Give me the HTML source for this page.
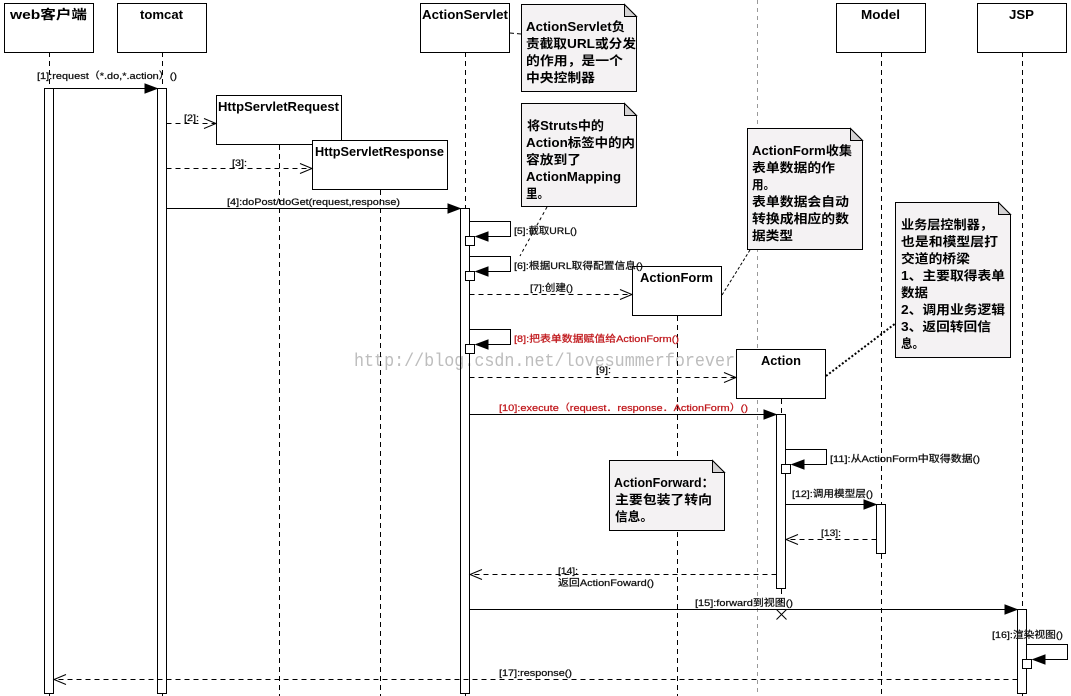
<!DOCTYPE html>
<html><head><meta charset="utf-8"><style>
html,body{margin:0;padding:0;background:#fff}
svg{display:block}
text{font-family:"Liberation Sans","Noto Sans CJK SC",sans-serif;fill:#1a1a1a}
.t{font-size:13px;font-weight:bold;fill:#000}
.n{font-size:12.5px;font-weight:bold;fill:#000}
.l{font-size:9.5px;fill:#111;stroke:#111;stroke-width:.25px}
.l.r{fill:#c0181c;stroke:#c0181c}
.b{fill:#fff;stroke:#000;stroke-width:1}
.d{stroke:#000;stroke-width:1;stroke-dasharray:5 4;fill:none}
.s{stroke:#000;stroke-width:1;fill:none}
.w{font-family:"Liberation Mono",monospace;font-size:18px;fill:#bdbdbd;mix-blend-mode:multiply}
</style></head><body>
<svg width="1071" height="696" viewBox="0 0 1071 696" xmlns="http://www.w3.org/2000/svg">
<defs>
<g id="fa"><path d="M0 0l-12-4.5v9z" fill="#000" stroke="#000"/></g>
<g id="oa"><path d="M-12-5L0 0L-12 5" fill="none" stroke="#000"/></g>
</defs>

<!-- lifelines -->
<path d="M757.5 0V696" stroke="#999" stroke-dasharray="4 4" fill="none"/>
<path class="d" d="M49.5 52V88M49.5 694V696M162.5 52V88M162.5 694V696M279.5 145V696M380.5 190V696M465.5 52V208M465.5 694V696M677.5 316V696M781.5 399V414M781.5 589V606M881.5 52V504M881.5 554V696M1022.5 52V609M1022.5 694V696"/>

<!-- heads -->
<rect class="b" x="4.5" y="3.5" width="89" height="49"/>
<rect class="b" x="117.5" y="3.5" width="89" height="49"/>
<rect class="b" x="420.5" y="3.5" width="89" height="49"/>
<rect class="b" x="836.5" y="3.5" width="89" height="49"/>
<rect class="b" x="977.5" y="3.5" width="89" height="49"/>
<rect class="b" x="216.5" y="95.5" width="125" height="49"/>
<rect class="b" x="312.5" y="140.5" width="135" height="49"/>
<rect class="b" x="632.5" y="266.5" width="89" height="49"/>
<rect class="b" x="736.5" y="349.5" width="89" height="49"/>
<text class="t" x="10" y="19" textLength="77" lengthAdjust="spacingAndGlyphs">web客户端</text>
<text class="t" x="140" y="19" textLength="43" lengthAdjust="spacingAndGlyphs">tomcat</text>
<text class="t" x="422" y="19" textLength="86" lengthAdjust="spacingAndGlyphs">ActionServlet</text>
<text class="t" x="861" y="19" textLength="39" lengthAdjust="spacingAndGlyphs">Model</text>
<text class="t" x="1009" y="19" textLength="25" lengthAdjust="spacingAndGlyphs">JSP</text>
<text class="t" x="218" y="111" textLength="121" lengthAdjust="spacingAndGlyphs">HttpServletRequest</text>
<text class="t" x="315" y="156" textLength="129" lengthAdjust="spacingAndGlyphs">HttpServletResponse</text>
<text class="t" x="640" y="282" textLength="73" lengthAdjust="spacingAndGlyphs">ActionForm</text>
<text class="t" x="761" y="365" textLength="40" lengthAdjust="spacingAndGlyphs">Action</text>

<!-- activations -->
<rect class="b" x="44.5" y="88.5" width="9" height="605"/>
<rect class="b" x="157.5" y="88.5" width="9" height="605"/>
<rect class="b" x="460.5" y="208.5" width="9" height="485"/>
<rect class="b" x="776.5" y="414.5" width="9" height="174"/>
<rect class="b" x="876.5" y="504.5" width="9" height="49"/>
<rect class="b" x="1017.5" y="609.5" width="9" height="84"/>

<!-- self messages -->
<path class="s" d="M469.5 221.5H510.5V236.5H476"/><rect class="b" x="465.5" y="236.5" width="9" height="9"/><use href="#fa" transform="translate(476 236.5) scale(-1 1)"/>
<path class="s" d="M469.5 256.5H510.5V271.5H476"/><rect class="b" x="465.5" y="271.5" width="9" height="9"/><use href="#fa" transform="translate(476 271.5) scale(-1 1)"/>
<path class="s" d="M469.5 329.5H510.5V344.5H476"/><rect class="b" x="465.5" y="344.5" width="9" height="9"/><use href="#fa" transform="translate(476 344.5) scale(-1 1)"/>
<path class="s" d="M785.5 449.5H826.5V464.5H792"/><rect class="b" x="781.5" y="464.5" width="9" height="9"/><use href="#fa" transform="translate(792 464.5) scale(-1 1)"/>
<path class="s" d="M1026.5 644.5H1067.5V659.5H1033"/><rect class="b" x="1022.5" y="659.5" width="9" height="9"/><use href="#fa" transform="translate(1033 659.5) scale(-1 1)"/>

<!-- messages -->
<path class="s" d="M53.5 88.5H157"/><use href="#fa" transform="translate(157 88.5)"/>
<path class="d" d="M166.5 123.5H216"/><use href="#oa" transform="translate(216 123.5)"/>
<path class="d" d="M166.5 168.5H312"/><use href="#oa" transform="translate(312 168.5)"/>
<path class="s" d="M166.5 208.5H460"/><use href="#fa" transform="translate(460 208.5)"/>
<path class="d" d="M469.5 294.5H632"/><use href="#oa" transform="translate(632 294.5)"/>
<path class="d" d="M469.5 377.5H736"/><use href="#oa" transform="translate(736 377.5)"/>
<path class="s" d="M469.5 414.5H776"/><use href="#fa" transform="translate(776 414.5)"/>
<path class="s" d="M785.5 504.5H876"/><use href="#fa" transform="translate(876 504.5)"/>
<path class="d" d="M876.5 539.5H786"/><use href="#oa" transform="translate(786 539.5) scale(-1 1)"/>
<path class="d" d="M776.5 574.5H470"/><use href="#oa" transform="translate(470 574.5) scale(-1 1)"/>
<path class="s" d="M469.5 609.5H1017"/><use href="#fa" transform="translate(1017 609.5)"/>
<path class="d" d="M1017.5 679.5H54"/><use href="#oa" transform="translate(54 679.5) scale(-1 1)"/>
<path class="s" d="M776.5 609.5L786.5 619.5M786.5 609.5L776.5 619.5"/>

<!-- labels -->
<text class="l" x="37" y="79" textLength="140" lengthAdjust="spacingAndGlyphs">[1]:request（*.do,*.action）()</text>
<text class="l" x="184" y="121" textLength="15" lengthAdjust="spacingAndGlyphs">[2]:</text>
<text class="l" x="232" y="166" textLength="15" lengthAdjust="spacingAndGlyphs">[3]:</text>
<text class="l" x="227" y="205" textLength="173" lengthAdjust="spacingAndGlyphs">[4]:doPost/doGet(request,response)</text>
<text class="l" x="514" y="234" textLength="63" lengthAdjust="spacingAndGlyphs">[5]:截取URL()</text>
<text class="l" x="514" y="269" textLength="129" lengthAdjust="spacingAndGlyphs">[6]:根据URL取得配置信息()</text>
<text class="l" x="530" y="291" textLength="43" lengthAdjust="spacingAndGlyphs">[7]:创建()</text>
<text class="l r" x="514" y="342" textLength="165" lengthAdjust="spacingAndGlyphs">[8]:把表单数据赋值给ActionForm()</text>
<text class="l" x="596" y="373" textLength="15" lengthAdjust="spacingAndGlyphs">[9]:</text>
<text class="l r" x="499" y="411" textLength="249" lengthAdjust="spacingAndGlyphs">[10]:execute（request．response．ActionForm）()</text>
<text class="l" x="830" y="462" textLength="150" lengthAdjust="spacingAndGlyphs">[11]:从ActionForm中取得数据()</text>
<text class="l" x="792" y="497" textLength="81" lengthAdjust="spacingAndGlyphs">[12]:调用模型层()</text>
<text class="l" x="821" y="536" textLength="20" lengthAdjust="spacingAndGlyphs">[13]:</text>
<text class="l" x="558" y="574" textLength="20" lengthAdjust="spacingAndGlyphs">[14]:</text>
<text class="l" x="558" y="586" textLength="96" lengthAdjust="spacingAndGlyphs">返回ActionFoward()</text>
<text class="l" x="695" y="606" textLength="98" lengthAdjust="spacingAndGlyphs">[15]:forward到视图()</text>
<text class="l" x="992" y="638" textLength="71" lengthAdjust="spacingAndGlyphs">[16]:渲染视图()</text>
<text class="l" x="499" y="676" textLength="73" lengthAdjust="spacingAndGlyphs">[17]:response()</text>

<!-- note connectors -->
<path class="s" stroke-dasharray="4 3" d="M510 33L521 34"/>
<path class="s" stroke-dasharray="3 3" d="M547 207L520 256"/>
<path class="s" stroke-dasharray="3 2" d="M722 295L750 250"/>
<path stroke="#000" stroke-width="2" stroke-dasharray="2 2" fill="none" d="M826 376L896 323"/>

<!-- notes -->
<g fill="#f4f2f3" stroke="#000">
<path d="M521.5 4.5H624.5L636.5 16.5V91.5H521.5Z"/>
<path d="M521.5 103.5H624.5L636.5 115.5V206.5H521.5Z"/>
<path d="M747.5 128.5H850.5L862.5 140.5V249.5H747.5Z"/>
<path d="M895.5 202.5H998.5L1010.5 214.5V357.5H895.5Z"/>
<path d="M609.5 460.5H712.5L724.5 472.5V530.5H609.5Z"/>
</g>
<g fill="#d4d2d3" stroke="#000">
<path d="M624.5 4.5L636.5 16.5H624.5Z"/>
<path d="M624.5 103.5L636.5 115.5H624.5Z"/>
<path d="M850.5 128.5L862.5 140.5H850.5Z"/>
<path d="M998.5 202.5L1010.5 214.5H998.5Z"/>
<path d="M712.5 460.5L724.5 472.5H712.5Z"/>
</g>

<text class="n" x="526" y="31" textLength="99" lengthAdjust="spacingAndGlyphs">ActionServlet负</text>
<text class="n" x="526" y="48" textLength="110" lengthAdjust="spacingAndGlyphs">责截取URL或分发</text>
<text class="n" x="526" y="65" textLength="97" lengthAdjust="spacingAndGlyphs">的作用，是一个</text>
<text class="n" x="526" y="82" textLength="69" lengthAdjust="spacingAndGlyphs">中央控制器</text>

<text class="n" x="527" y="130" textLength="77" lengthAdjust="spacingAndGlyphs">将Struts中的</text>
<text class="n" x="526" y="147" textLength="109" lengthAdjust="spacingAndGlyphs">Action标签中的内</text>
<text class="n" x="526" y="164" textLength="55" lengthAdjust="spacingAndGlyphs">容放到了</text>
<text class="n" x="526" y="181" textLength="95" lengthAdjust="spacingAndGlyphs">ActionMapping</text>
<text class="n" x="526" y="198" textLength="23" lengthAdjust="spacingAndGlyphs">里。</text>

<text class="n" x="752" y="155" textLength="100" lengthAdjust="spacingAndGlyphs">ActionForm收集</text>
<text class="n" x="752" y="172" textLength="83" lengthAdjust="spacingAndGlyphs">表单数据的作</text>
<text class="n" x="752" y="189" textLength="23" lengthAdjust="spacingAndGlyphs">用。</text>
<text class="n" x="752" y="206" textLength="97" lengthAdjust="spacingAndGlyphs">表单数据会自动</text>
<text class="n" x="752" y="223" textLength="97" lengthAdjust="spacingAndGlyphs">转换成相应的数</text>
<text class="n" x="752" y="240" textLength="41" lengthAdjust="spacingAndGlyphs">据类型</text>

<text class="n" x="901" y="229" textLength="92" lengthAdjust="spacingAndGlyphs">业务层控制器，</text>
<text class="n" x="901" y="246" textLength="97" lengthAdjust="spacingAndGlyphs">也是和模型层打</text>
<text class="n" x="901" y="263" textLength="69" lengthAdjust="spacingAndGlyphs">交道的桥梁</text>
<text class="n" x="901" y="280" textLength="104" lengthAdjust="spacingAndGlyphs">1、主要取得表单</text>
<text class="n" x="901" y="297" textLength="27" lengthAdjust="spacingAndGlyphs">数据</text>
<text class="n" x="901" y="314" textLength="104" lengthAdjust="spacingAndGlyphs">2、调用业务逻辑</text>
<text class="n" x="901" y="331" textLength="90" lengthAdjust="spacingAndGlyphs">3、返回转回信</text>
<text class="n" x="901" y="348" textLength="23" lengthAdjust="spacingAndGlyphs">息。</text>

<text class="n" x="614" y="487" textLength="100" lengthAdjust="spacingAndGlyphs">ActionForward：</text>
<text class="n" x="615" y="504" textLength="97" lengthAdjust="spacingAndGlyphs">主要包装了转向</text>
<text class="n" x="615" y="521" textLength="38" lengthAdjust="spacingAndGlyphs">信息。</text>

<!-- watermark -->
<text class="w" x="354" y="366" textLength="381" lengthAdjust="spacingAndGlyphs">http://blog.csdn.net/lovesummerforever</text>
</svg>
</body></html>
